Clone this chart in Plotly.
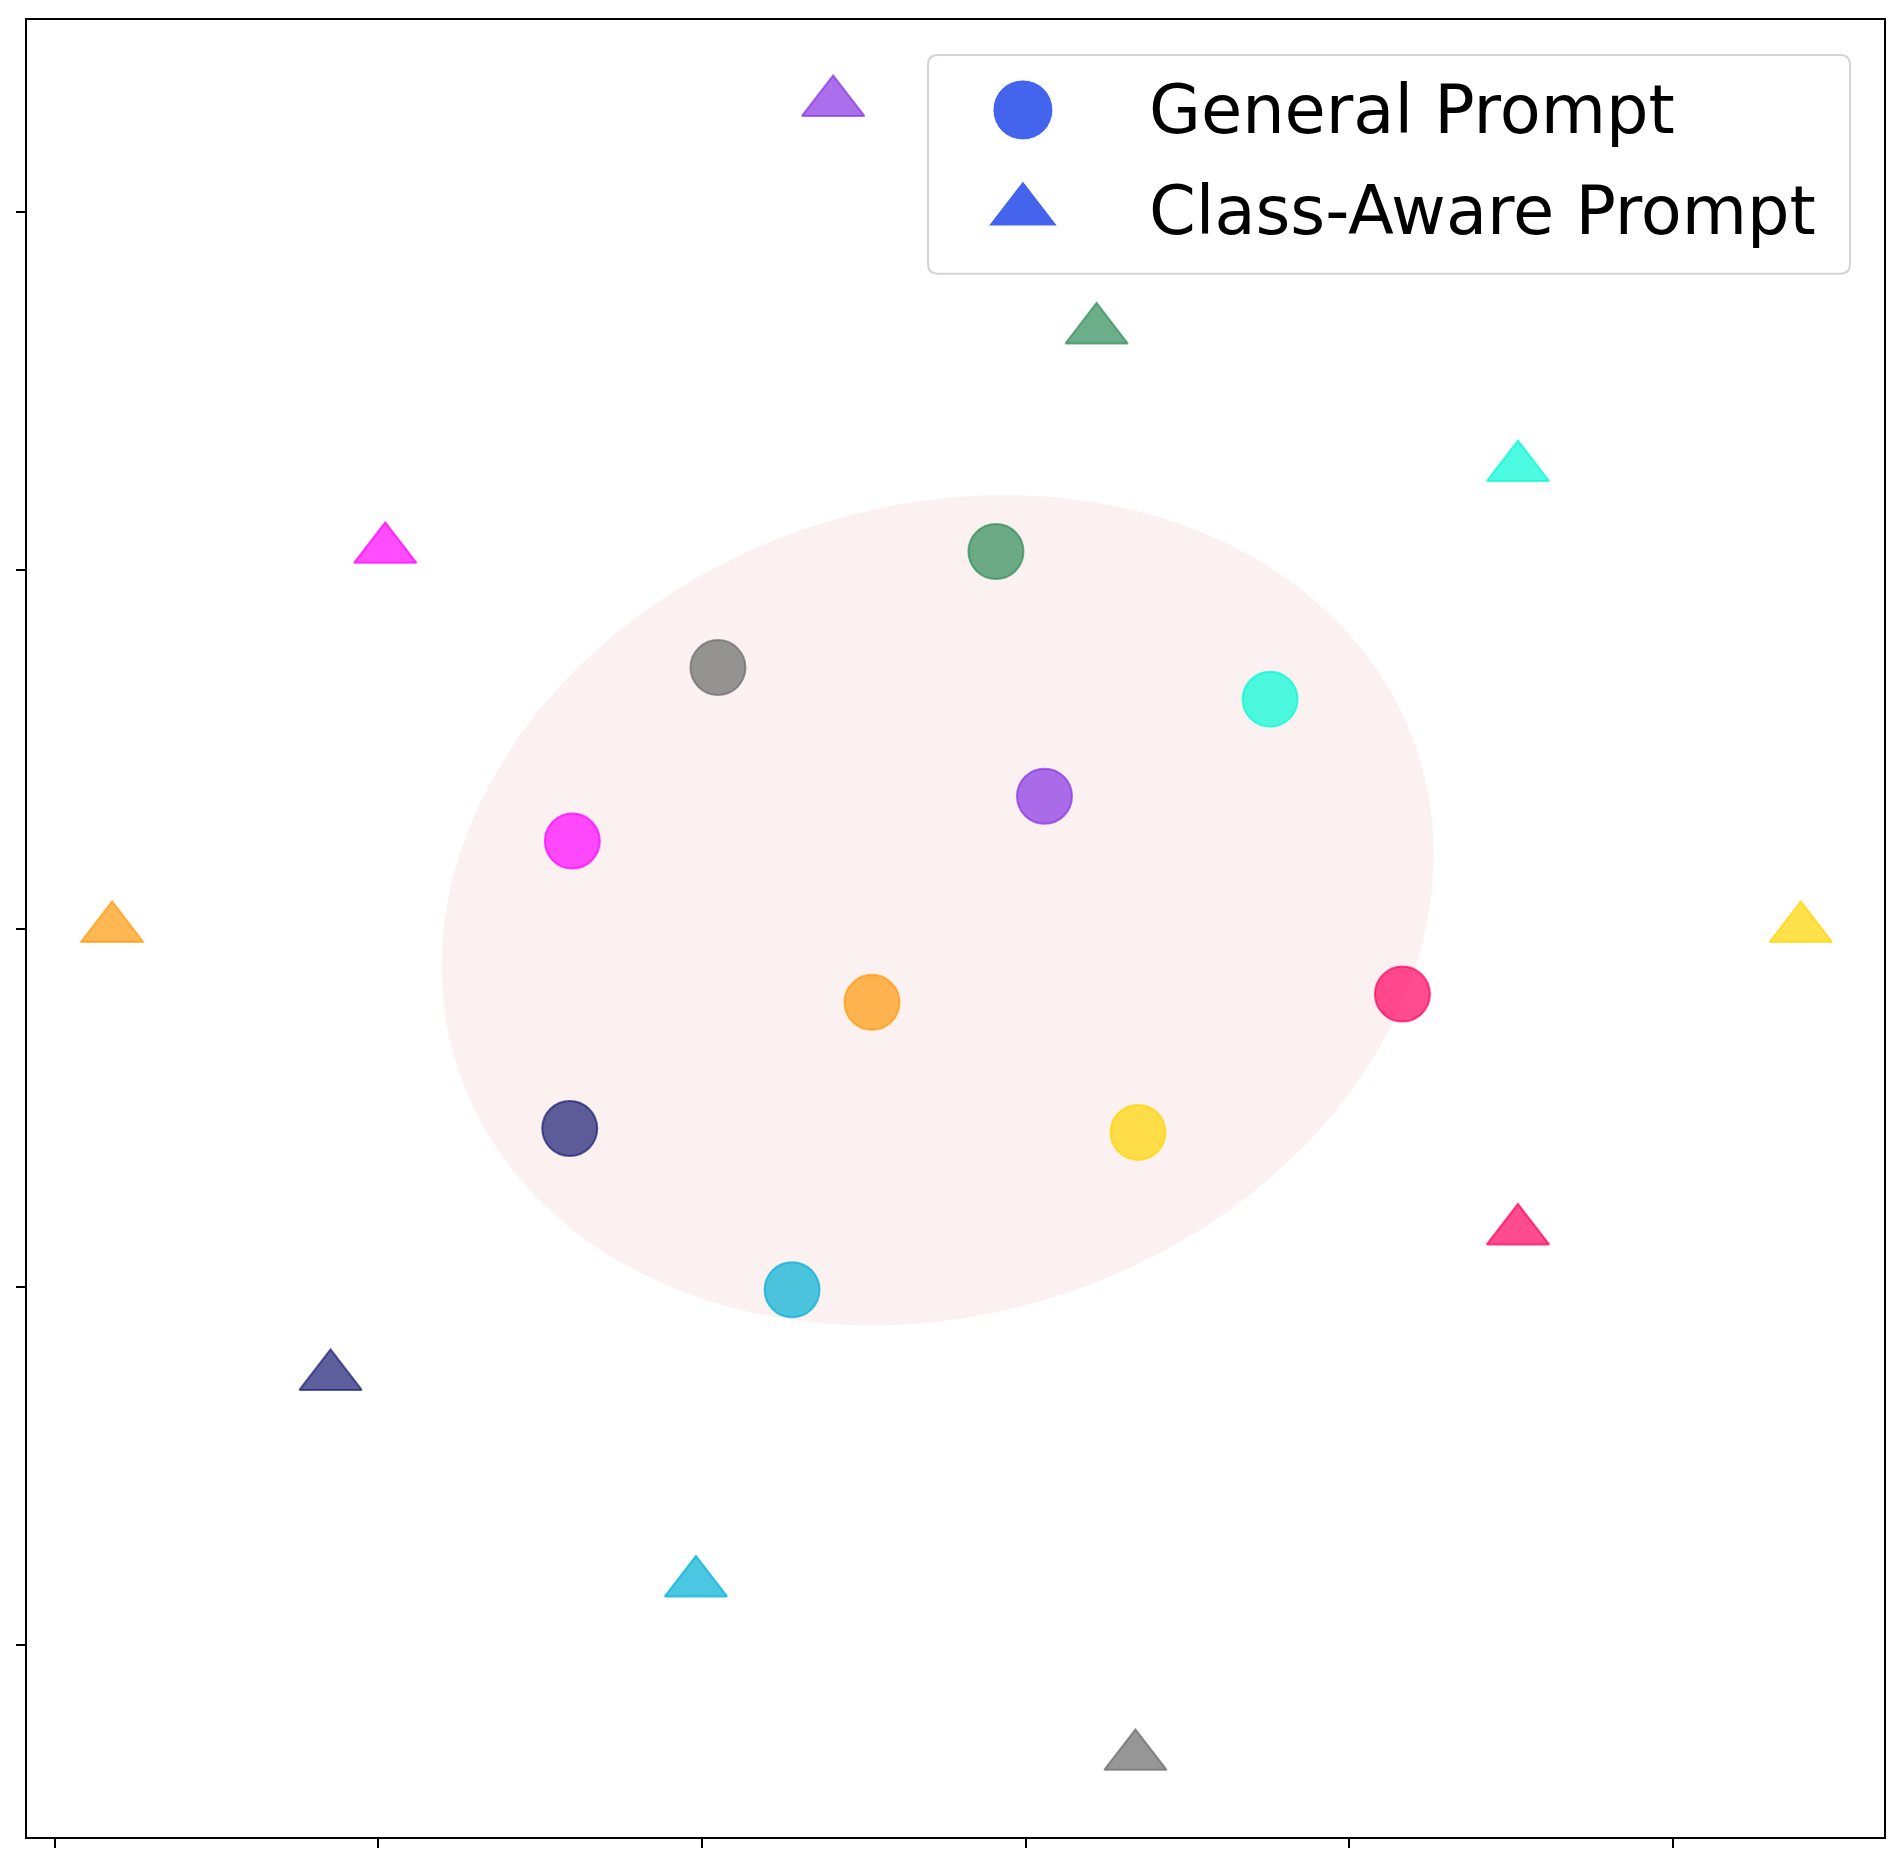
import numpy as np
import plotly.graph_objects as go

# class colours (base rgb, drawn with alpha 0.7)
class_colors = [
    (46, 139, 87),    # seagreen
    (105, 105, 105),  # dimgray
    (0, 250, 212),    # turquoise
    (135, 50, 228),   # blueviolet
    (255, 0, 255),    # magenta
    (255, 152, 10),   # orange
    (255, 0, 95),     # pink / red
    (25, 28, 115),    # navy
    (255, 212, 0),    # gold
    (0, 175, 212),    # sky blue
]

# general prompt embeddings (circles)
general_x = [9.08, 0.49, 17.55, 10.58, -4.01, 5.25, 21.64, -4.09, 13.47, 2.78]
general_y = [10.52, 7.28, 6.40, 3.69, 2.44, -2.06, -1.83, -5.58, -5.69, -10.08]

# class-aware prompt embeddings (triangles)
aware_x = [12.19, 13.39, 25.21, 4.05, -9.79, -18.23, 25.21, -11.48, 33.95, -0.19]
aware_y = [16.70, -23.10, 12.86, 23.05, 10.58, 0.0, -8.44, -12.50, 0.0, -18.26]

# shaded region around the general prompts
ell_center = (7.28, 0.51)
ell_width = 31.0
ell_height = 22.7
ell_angle = 12.7

x_ticks = [-20, -10, 0, 10, 20, 30]
y_ticks = [-20, -10, 0, 10, 20]

legend_labels = ['General Prompt', 'Class-Aware Prompt']
legend_symbols = ['circle', 'triangle-up']
legend_color = 'rgb(68,100,238)'

# plot area size in px (for rounded legend corners)
PW, PH = 1857, 1818


def rgba(c, a=0.7):
    return f'rgba({c[0]},{c[1]},{c[2]},{a})'


def ellipse_path(center, width, height, angle, n=120):
    t = np.linspace(0, 2 * np.pi, n)
    a, b = width / 2, height / 2
    th = np.deg2rad(angle)
    xs = center[0] + a * np.cos(t) * np.cos(th) - b * np.sin(t) * np.sin(th)
    ys = center[1] + a * np.cos(t) * np.sin(th) + b * np.sin(t) * np.cos(th)
    pts = [f'{x:.4f},{y:.4f}' for x, y in zip(xs, ys)]
    return 'M' + ' L'.join(pts) + ' Z'


def rounded_box(x0, x1, y0, y1, r=10):
    rx, ry = r / PW, r / PH
    return (f'M{x0 + rx},{y0} L{x1 - rx},{y0} Q{x1},{y0} {x1},{y0 + ry} '
            f'L{x1},{y1 - ry} Q{x1},{y1} {x1 - rx},{y1} '
            f'L{x0 + rx},{y1} Q{x0},{y1} {x0},{y1 - ry} '
            f'L{x0},{y0 + ry} Q{x0},{y0} {x0 + rx},{y0} Z')


fills = [rgba(c) for c in class_colors]

fig = go.Figure()

fig.add_trace(go.Scatter(
    x=general_x, y=general_y, mode='markers', name='General Prompt',
    marker=dict(symbol='circle', size=55, color=fills,
                line=dict(color=fills, width=2)),
    showlegend=False
))
fig.add_trace(go.Scatter(
    x=aware_x, y=aware_y, mode='markers', name='Class-Aware Prompt',
    marker=dict(symbol='triangle-up', size=54, color=fills,
                line=dict(color=fills, width=2)),
    showlegend=False
))

# hand-made legend (plotly caps legend marker size)
leg_x0, leg_x1, leg_y0, leg_y1 = 0.4852, 0.9817, 0.8603, 0.9807
row_y = [0.9505, 0.8949]
fig.add_trace(go.Scatter(
    x=[0.5363] * len(legend_labels), y=row_y, mode='markers',
    xaxis='x2', yaxis='y2', showlegend=False, hoverinfo='skip',
    marker=dict(symbol=legend_symbols, size=[60, 60], color=legend_color, opacity=1)
))
for lab, yy in zip(legend_labels, row_y):
    fig.add_annotation(x=0.6031, y=yy, xref='paper', yref='paper', text=lab,
                       showarrow=False, xanchor='left', yanchor='middle',
                       font=dict(family='DejaVu Sans', size=67, color='black'))

fig.add_shape(type='path', path=ellipse_path(ell_center, ell_width, ell_height, ell_angle),
              xref='x', yref='y', fillcolor='rgba(230,160,160,0.15)',
              line=dict(width=0), layer='below')
fig.add_shape(type='path', xref='paper', yref='paper',
              path=rounded_box(leg_x0, leg_x1, leg_y0, leg_y1),
              fillcolor='rgba(255,255,255,0.8)', line=dict(color='#d4d4d4', width=2),
              layer='below')

axis_style = dict(showgrid=False, zeroline=False, showline=True, linecolor='black',
                  linewidth=2, mirror=True, ticks='outside', ticklen=9, tickwidth=1.5,
                  tickcolor='black', showticklabels=False)

fig.update_layout(
    width=1903, height=1866,
    paper_bgcolor='white', plot_bgcolor='rgba(0,0,0,0)',
    margin=dict(l=19, r=27, t=10, b=37),
    xaxis=dict(range=[-20.86, 36.52], tickvals=x_ticks, **axis_style),
    yaxis=dict(range=[-25.35, 25.35], tickvals=y_ticks, **axis_style),
    xaxis2=dict(domain=[0, 1], range=[0, 1], anchor='y2', visible=False, fixedrange=True),
    yaxis2=dict(domain=[0, 1], range=[0, 1], anchor='x2', visible=False, fixedrange=True),
    showlegend=False,
)

fig.write_html('out.html')
